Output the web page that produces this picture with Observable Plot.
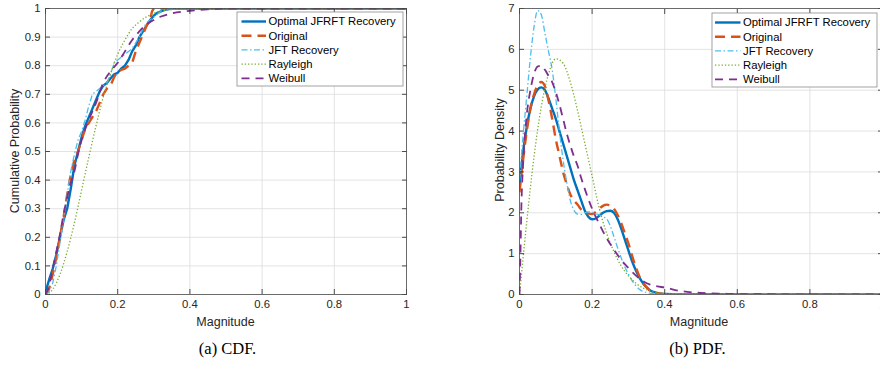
<!DOCTYPE html>
<html>
<head>
<meta charset="utf-8">
<script src="https://cdn.jsdelivr.net/npm/d3@7"></script>
<script src="https://cdn.jsdelivr.net/npm/@observablehq/plot@0.6"></script>
<style>
  html, body { margin: 0; padding: 0; background: #fff; overflow: hidden; }
  #wrap { position: relative; width: 880px; height: 374px; overflow: hidden; background: #fff; }
  #wrap svg { position: absolute; top: 0; }
  .lbl { position: absolute; font-family: "Liberation Sans", Arial, Helvetica, sans-serif; font-size: 12.5px; color: #262626; white-space: nowrap; transform: translate(-50%, -50%); }
  .ylbl { transform: translate(-50%, -50%) rotate(-90deg); }
  .cap { position: absolute; font-family: "Liberation Serif", "Times New Roman", serif; font-size: 16.5px; color: #000; white-space: nowrap; transform: translate(-50%, -50%); }
</style>
</head>
<body>
<div id="wrap"></div>
<script>
// ---------- tick labels ----------
const xTicks = [0, 0.2, 0.4, 0.6, 0.8, 1];
const cdfYTicks = [0, 0.1, 0.2, 0.3, 0.4, 0.5, 0.6, 0.7, 0.8, 0.9, 1];
const pdfYTicks = [0, 1, 2, 3, 4, 5, 6, 7];

// ---------- series names ----------
const seriesNames = ["Optimal JFRFT Recovery", "Original", "JFT Recovery", "Rayleigh", "Weibull"];

// ---------- CDF data ----------
const cdfOptimalX = [0, 0.005, 0.012, 0.02, 0.03, 0.04, 0.05, 0.06, 0.07, 0.08, 0.09, 0.10, 0.11, 0.12, 0.13, 0.14, 0.15, 0.16, 0.17, 0.18, 0.19, 0.20, 0.21, 0.22, 0.23, 0.24, 0.25, 0.26, 0.27, 0.28, 0.29, 0.30, 0.31, 0.32, 0.33, 0.35, 1.0];
const cdfOptimalY = [0, 0.03, 0.06, 0.09, 0.14, 0.20, 0.26, 0.30, 0.37, 0.45, 0.50, 0.55, 0.59, 0.62, 0.65, 0.68, 0.71, 0.73, 0.74, 0.755, 0.77, 0.775, 0.79, 0.80, 0.82, 0.85, 0.87, 0.90, 0.92, 0.94, 0.96, 0.975, 0.985, 0.99, 0.995, 1, 1];

const cdfOriginalX = [0, 0.01, 0.02, 0.03, 0.04, 0.05, 0.06, 0.07, 0.08, 0.09, 0.10, 0.11, 0.12, 0.13, 0.14, 0.15, 0.16, 0.17, 0.18, 0.19, 0.20, 0.21, 0.22, 0.23, 0.24, 0.25, 0.26, 0.27, 0.28, 0.29, 0.295, 0.30, 1.0];
const cdfOriginalY = [0, 0.02, 0.07, 0.13, 0.20, 0.27, 0.35, 0.42, 0.47, 0.50, 0.54, 0.58, 0.60, 0.62, 0.64, 0.67, 0.70, 0.72, 0.73, 0.76, 0.78, 0.785, 0.79, 0.80, 0.81, 0.85, 0.88, 0.91, 0.94, 0.96, 0.99, 1.0, 1.0];

const cdfJftX = [0, 0.01, 0.02, 0.03, 0.04, 0.05, 0.06, 0.07, 0.08, 0.09, 0.10, 0.11, 0.12, 0.13, 0.14, 0.15, 0.16, 0.17, 0.18, 0.19, 0.20, 0.21, 0.22, 0.23, 0.24, 0.25, 0.26, 0.27, 0.28, 0.29, 0.30, 0.31, 0.32, 0.34, 1.0];
const cdfJftY = [0, 0.01, 0.04, 0.10, 0.18, 0.26, 0.35, 0.43, 0.49, 0.54, 0.57, 0.61, 0.66, 0.70, 0.71, 0.72, 0.73, 0.74, 0.77, 0.81, 0.82, 0.83, 0.84, 0.85, 0.86, 0.88, 0.90, 0.93, 0.95, 0.96, 0.97, 0.98, 0.99, 1.0, 1.0];

const cdfRayleighX = [0, 0.02, 0.04, 0.06, 0.08, 0.10, 0.12, 0.14, 0.16, 0.18, 0.20, 0.22, 0.24, 0.26, 0.28, 0.30, 0.33, 0.36, 0.40, 0.50, 1.0];
const cdfRayleighY = [0, 0.018, 0.07, 0.15, 0.25, 0.365, 0.48, 0.59, 0.69, 0.77, 0.84, 0.89, 0.93, 0.953, 0.971, 0.983, 0.993, 0.997, 0.999, 1, 1];

const cdfWeibullX = [0, 0.01, 0.02, 0.03, 0.04, 0.05, 0.06, 0.07, 0.08, 0.09, 0.10, 0.12, 0.14, 0.16, 0.18, 0.20, 0.22, 0.24, 0.26, 0.28, 0.30, 0.32, 0.35, 0.40, 0.45, 0.50, 1.0];
const cdfWeibullY = [0, 0.03, 0.09, 0.15, 0.21, 0.28, 0.34, 0.39, 0.43, 0.49, 0.54, 0.61, 0.67, 0.74, 0.78, 0.81, 0.85, 0.89, 0.92, 0.945, 0.96, 0.972, 0.983, 0.992, 0.997, 1, 1];

// ---------- PDF data ----------
const pdfOptimalX = [0, 0.01, 0.02, 0.03, 0.04, 0.05, 0.06, 0.07, 0.08, 0.09, 0.10, 0.11, 0.12, 0.13, 0.14, 0.15, 0.16, 0.17, 0.18, 0.19, 0.20, 0.21, 0.22, 0.23, 0.24, 0.25, 0.26, 0.27, 0.28, 0.29, 0.30, 0.31, 0.32, 0.33, 0.34, 0.35, 0.36, 0.38, 0.40, 0.45, 0.6, 1.0];
const pdfOptimalY = [2.65, 3.5, 4.1, 4.55, 4.85, 5.02, 5.07, 5.0, 4.8, 4.55, 4.3, 4.0, 3.7, 3.4, 3.1, 2.8, 2.55, 2.3, 2.05, 1.9, 1.84, 1.86, 1.93, 2.0, 2.04, 2.05, 2.0, 1.85, 1.62, 1.35, 1.08, 0.82, 0.6, 0.42, 0.28, 0.18, 0.1, 0.04, 0.015, 0.003, 0, 0];

const pdfOriginalX = [0, 0.01, 0.02, 0.03, 0.04, 0.05, 0.06, 0.07, 0.08, 0.09, 0.10, 0.11, 0.12, 0.13, 0.14, 0.15, 0.16, 0.17, 0.18, 0.19, 0.20, 0.21, 0.22, 0.23, 0.24, 0.25, 0.26, 0.27, 0.28, 0.29, 0.30, 0.31, 0.32, 0.33, 0.34, 0.35, 0.36, 0.38, 0.40, 0.6, 1.0];
const pdfOriginalY = [2.5, 3.3, 4.0, 4.55, 4.9, 5.12, 5.2, 5.1, 4.75, 4.3, 3.8, 3.4, 3.0, 2.7, 2.45, 2.3, 2.2, 2.08, 2.02, 1.98, 1.97, 2.02, 2.1, 2.17, 2.2, 2.18, 2.1, 1.95, 1.75, 1.5, 1.25, 0.95, 0.68, 0.45, 0.28, 0.17, 0.09, 0.03, 0.01, 0, 0];

const pdfJftX = [0, 0.01, 0.02, 0.03, 0.04, 0.05, 0.06, 0.07, 0.08, 0.09, 0.10, 0.11, 0.12, 0.13, 0.14, 0.15, 0.16, 0.17, 0.18, 0.19, 0.20, 0.21, 0.22, 0.23, 0.24, 0.25, 0.26, 0.27, 0.28, 0.29, 0.30, 0.31, 0.32, 0.33, 0.34, 0.36, 0.38, 0.40, 0.6, 1.0];
const pdfJftY = [2.8, 3.9, 4.85, 5.8, 6.55, 6.95, 6.85, 6.4, 5.95, 5.5, 4.8, 4.0, 3.3, 2.75, 2.3, 2.06, 1.97, 1.96, 2.0, 2.02, 2.02, 1.98, 1.95, 1.9, 1.85, 1.68, 1.42, 1.15, 0.9, 0.68, 0.5, 0.34, 0.22, 0.13, 0.08, 0.03, 0.01, 0, 0, 0];

const pdfRayleighX = [0, 0.01, 0.02, 0.03, 0.04, 0.06, 0.08, 0.10, 0.12, 0.14, 0.16, 0.18, 0.20, 0.22, 0.24, 0.26, 0.28, 0.30, 0.32, 0.34, 0.36, 0.38, 0.40, 0.45, 0.6, 1.0];
const pdfRayleighY = [0, 0.9, 1.78, 2.62, 3.37, 4.6, 5.4, 5.77, 5.66, 5.2, 4.5, 3.7, 2.9, 2.1, 1.5, 1.05, 0.7, 0.46, 0.28, 0.16, 0.085, 0.04, 0.02, 0.003, 0, 0];

const pdfWeibullX = [0, 0.002, 0.005, 0.01, 0.015, 0.02, 0.03, 0.04, 0.05, 0.06, 0.07, 0.08, 0.09, 0.10, 0.11, 0.12, 0.13, 0.14, 0.15, 0.16, 0.17, 0.18, 0.19, 0.20, 0.22, 0.24, 0.26, 0.28, 0.30, 0.32, 0.34, 0.36, 0.38, 0.40, 0.44, 0.48, 0.52, 0.56, 0.60, 0.70, 0.80, 1.0];
const pdfWeibullY = [0, 0.7, 2.1, 3.2, 3.9, 4.4, 5.0, 5.4, 5.58, 5.6, 5.5, 5.35, 5.2, 4.95, 4.65, 4.3, 3.95, 3.65, 3.38, 3.15, 2.85, 2.58, 2.33, 2.1, 1.72, 1.38, 1.1, 0.85, 0.65, 0.47, 0.33, 0.24, 0.2, 0.17, 0.09, 0.05, 0.03, 0.02, 0.01, 0.005, 0.002, 0];

// ---------- styles (not data) ----------
const styles = {
  "Optimal JFRFT Recovery": {stroke: "#0072BD", width: 2.4, dash: null},
  "Original": {stroke: "#D95319", width: 2.4, dash: "10,6"},
  "JFT Recovery": {stroke: "#4DBEEE", width: 1.3, dash: "6,2.5,1.5,2.5"},
  "Rayleigh": {stroke: "#77AC30", width: 1.3, dash: "1.3,2"},
  "Weibull": {stroke: "#7E2F8E", width: 1.8, dash: "8,6"}
};

function rows(xs, ys) { return xs.map((x, i) => ({x, y: ys[i]})); }

const cdfSeries = [
  [seriesNames[0], rows(cdfOptimalX, cdfOptimalY), "linear"],
  [seriesNames[1], rows(cdfOriginalX, cdfOriginalY), "linear"],
  [seriesNames[2], rows(cdfJftX, cdfJftY), "linear"],
  [seriesNames[3], rows(cdfRayleighX, cdfRayleighY), "monotone-x"],
  [seriesNames[4], rows(cdfWeibullX, cdfWeibullY), "monotone-x"]
];
const pdfSeries = [
  [seriesNames[0], rows(pdfOptimalX, pdfOptimalY), "monotone-x"],
  [seriesNames[1], rows(pdfOriginalX, pdfOriginalY), "monotone-x"],
  [seriesNames[2], rows(pdfJftX, pdfJftY), "monotone-x"],
  [seriesNames[3], rows(pdfRayleighX, pdfRayleighY), "monotone-x"],
  [seriesNames[4], rows(pdfWeibullX, pdfWeibullY), "monotone-x"]
];

const axisColor = "#262626";
const fontFamily = '"Liberation Sans", Arial, Helvetica, sans-serif';

function makePanel({width, marginLeft, marginRight, yDomain, yTicks, series}) {
  const lineMarks = series.map(([name, data, curve]) => {
    const s = styles[name];
    return Plot.line(data, {x: "x", y: "y", curve, stroke: s.stroke, strokeWidth: s.width,
      strokeDasharray: s.dash || undefined, strokeLinejoin: "round", strokeLinecap: "butt", clip: true});
  });
  return Plot.plot({
    width, height: 374,
    marginLeft, marginRight, marginTop: 8, marginBottom: 80,
    style: {fontFamily, fontSize: "11.3px", color: axisColor, background: "transparent", overflow: "visible"},
    x: {domain: [0, 1], ticks: xTicks, label: null},
    y: {domain: yDomain, ticks: yTicks, label: null},
    marks: [
      Plot.gridX(xTicks, {stroke: "#dcdcdc", strokeOpacity: 1, strokeWidth: 0.8}),
      Plot.gridY(yTicks, {stroke: "#dcdcdc", strokeOpacity: 1, strokeWidth: 0.8}),
      ...lineMarks,
      Plot.axisX(xTicks, {anchor: "bottom", tickSize: -5, tickPadding: 10, tickFormat: d => String(d), label: null, stroke: axisColor, strokeOpacity: 0.8}),
      Plot.axisX(xTicks, {anchor: "top", tickSize: -5, tickFormat: () => "", label: null, stroke: axisColor, strokeOpacity: 0.8}),
      Plot.axisY(yTicks, {anchor: "left", tickSize: -5, tickPadding: 10, tickFormat: d => String(d), label: null, stroke: axisColor, strokeOpacity: 0.8}),
      Plot.axisY(yTicks, {anchor: "right", tickSize: -5, tickFormat: () => "", label: null, stroke: axisColor, strokeOpacity: 0.8}),
      Plot.frame({stroke: "#4d4d4d", strokeWidth: 0.8})
    ]
  });
}

function addLegend(svg, box, lineX1, lineX2, textX, rowY0, rowStep) {
  const g = d3.select(svg).append("g").attr("text-anchor", "start");
  g.append("rect").attr("x", box.x).attr("y", box.y).attr("width", box.w).attr("height", box.h)
    .attr("fill", "#fff").attr("stroke", "#8c8c8c").attr("stroke-width", 0.8);
  seriesNames.forEach((name, i) => {
    const s = styles[name];
    const y = rowY0 + i * rowStep;
    g.append("line").attr("x1", lineX1).attr("x2", lineX2).attr("y1", y).attr("y2", y)
      .attr("stroke", s.stroke).attr("stroke-width", s.width)
      .attr("stroke-dasharray", s.dash || null);
    g.append("text").attr("x", textX).attr("y", y).attr("dy", "0.35em")
      .attr("text-anchor", "start")
      .attr("font-family", fontFamily).attr("font-size", "11.3px").attr("fill", "#000").text(name);
  });
}

const wrap = document.getElementById("wrap");

const cdfPlot = makePanel({width: 440, marginLeft: 45, marginRight: 34, yDomain: [0, 1], yTicks: cdfYTicks, series: cdfSeries});
cdfPlot.style.left = "0px";
wrap.appendChild(cdfPlot);
addLegend(cdfPlot, {x: 237, y: 12, w: 166, h: 74}, 241.5, 266, 268.5, 21.5, 14.2);

const pdfPlot = makePanel({width: 443, marginLeft: 79, marginRight: 1, yDomain: [0, 7], yTicks: pdfYTicks, series: pdfSeries});
pdfPlot.style.left = "440px";
wrap.appendChild(pdfPlot);
addLegend(pdfPlot, {x: 272, y: 13, w: 165, h: 74}, 275, 300.5, 303, 22.5, 14.2);

function addText(cls, text, x, y) {
  const d = document.createElement("div");
  d.className = cls;
  d.textContent = text;
  d.style.left = x + "px";
  d.style.top = y + "px";
  wrap.appendChild(d);
}
addText("lbl", "Magnitude", 225.5, 322);
addText("lbl", "Magnitude", 699, 322);
addText("lbl ylbl", "Cumulative Probability", 15, 151);
addText("lbl ylbl", "Probability Density", 500, 150);
addText("cap", "(a) CDF.", 227.5, 349);
addText("cap", "(b) PDF.", 697.5, 349);
</script>
</body>
</html>
